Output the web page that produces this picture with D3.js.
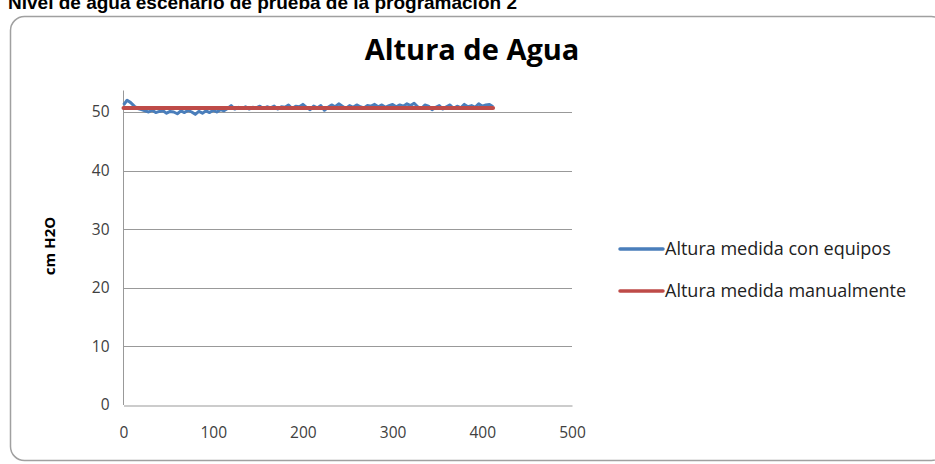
<!DOCTYPE html>
<html lang="es">
  <head>
    <meta charset="utf-8" />
    <title>Altura de Agua</title>
    <script src="https://d3js.org/d3.v7.min.js"></script>
    <style>
      body { margin: 0; background: #fff; }
      svg { display: block; }
      .tick-label { font-family: "Open Sans", sans-serif; font-size: 15.5px; fill: #404040; }
    </style>
  </head>
  <body>
    <div id="chart"></div>
    <script>
      /* ----------------------------- DATA ----------------------------- */
      const seriesNames = ['Altura medida con equipos', 'Altura medida manualmente'];
      const seriesColors = ['#4a7ebb', '#be4b48'];

      // blue series, one reading every 4 samples (0 .. 412)
      const sampleStep = 4;
      const equiposValues = [
        51.2, 52.0, 51.6, 51.0, 50.6,
        50.4, 50.2, 50.0, 50.3, 49.9, 50.1, 50.2, 49.8,
        50.1, 50.0, 49.7, 50.2, 49.9, 50.3, 50.0, 49.6,
        50.1, 49.8, 50.2, 49.9, 50.3, 50.0, 50.4, 50.2, 50.6,
        51.1, 50.5, 50.8, 50.6, 50.9, 50.5, 50.8, 50.7, 51.0, 50.6, 50.9,
        50.7, 51.0, 50.5, 50.9, 50.8, 51.2, 50.6, 51.0, 50.9, 51.3,
        50.8, 50.4, 51.0, 50.7, 51.1, 50.3, 50.8, 51.2, 50.9, 51.4,
        51.0, 50.6, 51.1, 50.8, 51.2, 50.9, 50.7, 51.1, 51.0, 51.3,
        50.9, 51.2, 50.8, 51.1, 51.3, 50.9, 51.2, 51.0, 51.4, 51.1,
        51.5, 50.9, 50.6, 51.2, 51.0, 50.4, 50.8, 51.1, 50.5, 50.9,
        51.2, 50.6, 51.0, 50.7, 51.3, 50.9, 51.1, 50.8, 51.4, 51.0, 51.2, 51.3, 50.9
      ];

      // red series: manual measurement
      const manualX = [0, 412];
      const manualValues = [50.7, 50.7];

      const xTicks = [0, 100, 200, 300, 400, 500];
      const yTicks = [0, 10, 20, 30, 40, 50];

      /* ---------------------------- LAYOUT ---------------------------- */
      const W = 935, H = 464;
      const plot = { l: 123.5, r: 572, t: 90.5, b: 405 };

      const svg = d3.select('#chart').append('svg')
        .attr('width', W).attr('height', H);

      // caption above the chart (cut by the top edge, as in the scan)
      svg.append('text')
        .attr('x', 8).attr('y', 9)
        .attr('font-family', 'Liberation Sans, Arial, sans-serif')
        .attr('font-weight', 'bold').attr('font-size', 19)
        .attr('fill', '#000')
        .text('Nivel de agua escenario de prueba de la programación 2');

      // chart frame (right side runs off the page)
      svg.append('rect')
        .attr('x', 10.5).attr('y', 16.5)
        .attr('width', 935).attr('height', 444)
        .attr('rx', 14)
        .attr('fill', '#fff')
        .attr('stroke', '#a0a0a0').attr('stroke-width', 1.5);

      svg.append('text')
        .attr('x', 472).attr('y', 60)
        .attr('text-anchor', 'middle')
        .attr('font-family', '"Open Sans", sans-serif')
        .attr('font-weight', 'bold').attr('font-size', 29)
        .attr('fill', '#000')
        .text('Altura de Agua');

      /* ---------------------------- SCALES ---------------------------- */
      const x = d3.scaleLinear().domain([0, 500]).range([plot.l, plot.r]);
      const y = d3.scaleLinear().domain([0, 50]).range([plot.b, 112]);

      // gridlines
      svg.append('g').selectAll('line')
        .data(yTicks.filter(d => d > 0))
        .join('line')
        .attr('x1', plot.l).attr('x2', plot.r)
        .attr('y1', d => Math.round(y(d)) + 0.5).attr('y2', d => Math.round(y(d)) + 0.5)
        .attr('stroke', '#999').attr('stroke-width', 1);

      // axes
      const axisY = d3.axisLeft(y).tickValues(yTicks).tickSize(0).tickPadding(14);
      const gy = svg.append('g').attr('transform', `translate(${plot.l},0)`).call(axisY);
      gy.select('.domain').attr('d', `M0,${plot.t}V${plot.b}`).attr('stroke', '#999');
      gy.selectAll('text').attr('class', 'tick-label').attr('font-size', null).attr('font-family', null);

      const axisX = d3.axisBottom(x).tickValues(xTicks).tickSize(0).tickPadding(21);
      const gx = svg.append('g').attr('transform', `translate(0,${plot.b + 0.5})`).call(axisX);
      gx.select('.domain').attr('stroke', '#999');
      gx.selectAll('text').attr('class', 'tick-label').attr('font-size', null).attr('font-family', null);

      svg.append('text')
        .attr('transform', `translate(55,246) rotate(-90)`)
        .attr('text-anchor', 'middle')
        .attr('font-family', '"Open Sans", sans-serif')
        .attr('font-weight', 'bold').attr('font-size', 15)
        .text('cm H2O');

      /* ---------------------------- LINES ----------------------------- */
      const line = d3.line().x(d => x(d[0])).y(d => y(d[1]));

      const equiposPts = equiposValues.map((v, i) => [i * sampleStep, v]);
      const manualPts = manualX.map((v, i) => [v, manualValues[i]]);

      svg.append('path')
        .attr('d', line(equiposPts))
        .attr('fill', 'none')
        .attr('stroke', seriesColors[0]).attr('stroke-width', 3)
        .attr('stroke-linejoin', 'round');

      svg.append('path')
        .attr('d', line(manualPts))
        .attr('fill', 'none')
        .attr('stroke', seriesColors[1]).attr('stroke-width', 4)
        .attr('stroke-linecap', 'round');

      /* ---------------------------- LEGEND ---------------------------- */
      const legend = svg.append('g').selectAll('g')
        .data(seriesNames)
        .join('g')
        .attr('transform', (d, i) => `translate(620,${249 + i * 42})`);

      legend.append('line')
        .attr('x1', 0).attr('x2', 43)
        .attr('stroke', (d, i) => seriesColors[i])
        .attr('stroke-width', 3.5).attr('stroke-linecap', 'round');

      legend.append('text')
        .attr('x', 45).attr('y', 6)
        .attr('font-family', '"Open Sans", sans-serif')
        .attr('font-size', 18).attr('fill', '#222')
        .text(d => d);
    </script>
  </body>
</html>
